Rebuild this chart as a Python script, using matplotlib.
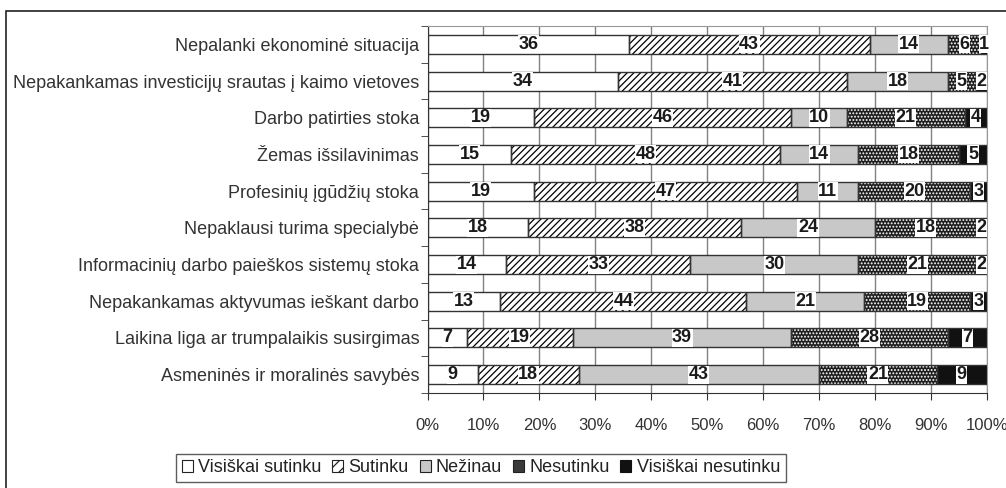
import matplotlib.pyplot as plt
from matplotlib.patches import Patch, Rectangle

plt.rcParams['font.family'] = ['Liberation Sans', 'DejaVu Sans']
plt.rcParams['hatch.linewidth'] = 0.9

categories = [
    'Nepalanki ekonominė situacija',
    'Nepakankamas investicijų srautas į kaimo vietoves',
    'Darbo patirties stoka',
    'Žemas išsilavinimas',
    'Profesinių įgūdžių stoka',
    'Nepaklausi turima specialybė',
    'Informacinių darbo paieškos sistemų stoka',
    'Nepakankamas aktyvumas ieškant darbo',
    'Laikina liga ar trumpalaikis susirgimas',
    'Asmeninės ir moralinės savybės',
]
series = ['Visiškai sutinku', 'Sutinku', 'Nežinau', 'Nesutinku', 'Visiškai nesutinku']
visiskai_sutinku = [36, 34, 19, 15, 19, 18, 14, 13, 7, 9]
sutinku = [43, 41, 46, 48, 47, 38, 33, 44, 19, 18]
nezinau = [14, 18, 10, 14, 11, 24, 30, 21, 39, 43]
nesutinku = [6, 5, 21, 18, 20, 18, 21, 19, 28, 21]
visiskai_nesutinku = [1, 2, 4, 5, 3, 2, 2, 3, 7, 9]
values = [visiskai_sutinku, sutinku, nezinau, nesutinku, visiskai_nesutinku]

# fill, hatch, hatch colour
styles = [
    ('white', '', 'black'),
    ('white', '/////', 'black'),
    ('#c8c8c8', '', 'black'),
    ('#1e1e1e', '.....', 'white'),
    ('#111111', '', 'black'),
]

fig = plt.figure(figsize=(10.06, 4.88), dpi=100)
ax = fig.add_axes([427.5 / 1006, 1 - 393 / 488, (987 - 427.5) / 1006, (393 - 26) / 488])

y = list(range(len(categories)))
left = [0] * len(categories)
for vals, (fc, hatch, hc) in zip(values, styles):
    ax.barh(y, vals, left=left, height=0.52, color=fc, edgecolor=hc,
            hatch=hatch, linewidth=0, zorder=2)
    ax.barh(y, vals, left=left, height=0.52, fill=False, edgecolor='#333333',
            linewidth=1.0, zorder=3)
    for i, v in enumerate(vals):
        ax.text(left[i] + v / 2, i, str(v), ha='center', va='center',
                fontsize=13, fontweight='bold', color='#1a1a1a', zorder=4,
                bbox=dict(facecolor='white', edgecolor='none', pad=0.4))
    left = [l + v for l, v in zip(left, vals)]

ax.set_xlim(0, 100)
ax.set_ylim(len(categories) - 0.5, -0.5)
ax.set_xticks(range(0, 101, 10))
ax.set_xticklabels([f'{t}%' for t in range(0, 101, 10)], fontsize=12, color='#333333')
ax.set_yticks(y)
ax.set_yticklabels(categories, fontsize=13, color='#333333')
ax.set_yticks([i - 0.5 for i in range(len(categories) + 1)], minor=True)
ax.tick_params(axis='y', which='major', length=0, pad=6)
ax.tick_params(axis='y', which='minor', length=5, direction='out', color='#333333')
ax.tick_params(axis='x', length=5, direction='out', pad=13, color='#333333')
ax.grid(axis='x', color='#808080', linewidth=1, zorder=0)
ax.set_axisbelow(True)
for s in ['left', 'bottom']:
    ax.spines[s].set_color('#333333')
for s in ['top', 'right']:
    ax.spines[s].set_color('#999999')

handles = [
    Patch(facecolor='white', edgecolor='#222222', linewidth=0.8),
    Patch(facecolor='white', edgecolor='#222222', hatch='///', linewidth=0.8),
    Patch(facecolor='#c8c8c8', edgecolor='#222222', linewidth=0.8),
    Patch(facecolor='#3a3a3a', edgecolor='#222222', linewidth=0.8),
    Patch(facecolor='#111111', edgecolor='#111111', linewidth=0.8),
]
leg = fig.legend(handles, series, loc='center', bbox_to_anchor=(481 / 1006, 1 - 468 / 488),
                 ncol=5, fontsize=13, frameon=True, fancybox=False, edgecolor='#333333',
                 handlelength=0.6, handleheight=0.6, handletextpad=0.3, columnspacing=0.6,
                 borderpad=0.3, labelcolor='#222222')
leg.get_frame().set_linewidth(1)

fig.patches.append(Rectangle((6 / 1006, -0.05), 1.1, 1 - 11 / 488 + 0.05,
                             transform=fig.transFigure, fill=False,
                             edgecolor='#222222', linewidth=1.2))

fig.savefig('out.png', dpi=100)
